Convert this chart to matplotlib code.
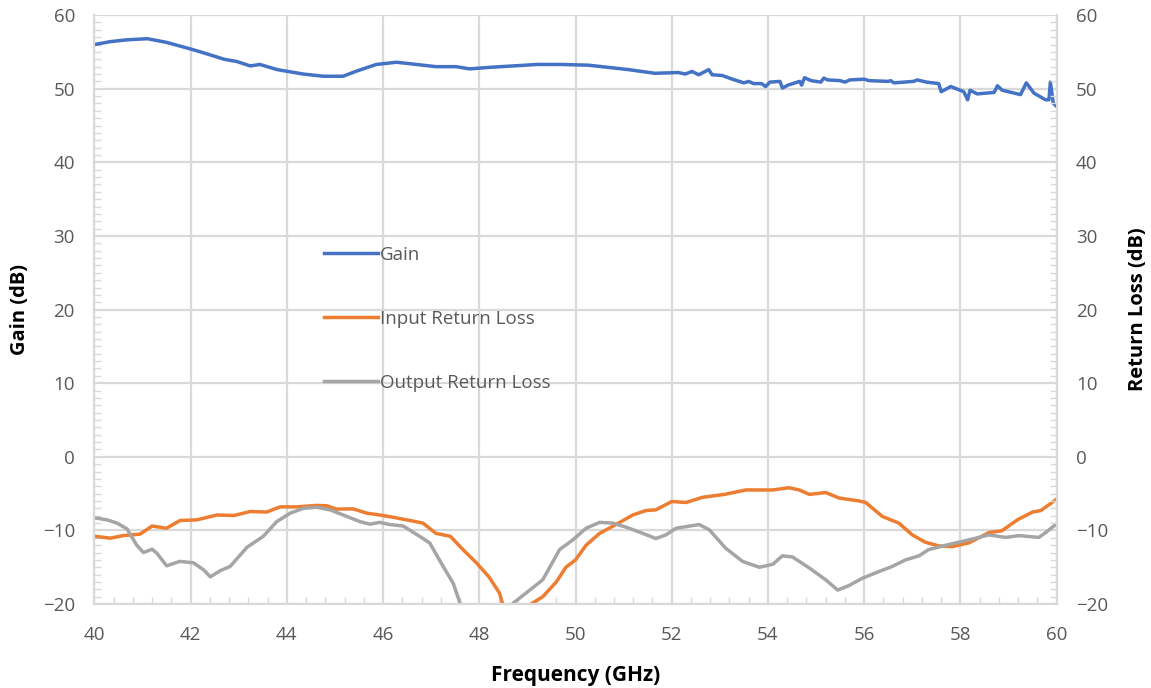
"""
Gain and return loss versus frequency
"""

import matplotlib
matplotlib.use('Agg')
import matplotlib.pyplot as plt
from matplotlib.ticker import MultipleLocator

# gain (dB)
gain_f = [40.0, 40.33, 40.68, 41.1, 41.5, 42.0, 42.26, 42.7, 42.96, 43.24, 43.44,
          43.8, 44.07, 44.34, 44.76, 45.17, 45.45, 45.86, 46.28, 46.56, 47.1,
          47.52, 47.8, 48.2, 49.2, 49.7, 50.27, 50.55, 51.1, 51.65, 52.14, 52.28,
          52.42, 52.56, 52.77, 52.84, 53.05, 53.26, 53.5, 53.6, 53.7, 53.87,
          53.95, 54.04, 54.25, 54.3, 54.42, 54.66, 54.7, 54.76, 54.9, 55.1,
          55.16, 55.24, 55.5, 55.6, 55.7, 56.0, 56.1, 56.5, 56.55, 56.62, 57.03,
          57.1, 57.3, 57.55, 57.6, 57.8, 58.07, 58.15, 58.2, 58.35, 58.7, 58.77,
          58.87, 59.25, 59.37, 59.53, 59.77, 59.84, 59.87, 59.93, 60.0]
gain_db = [56.0, 56.4, 56.65, 56.8, 56.3, 55.4, 54.9, 54.0, 53.7, 53.1, 53.3,
           52.6, 52.3, 52.0, 51.7, 51.7, 52.4, 53.3, 53.6, 53.4, 53.0,
           53.0, 52.7, 52.9, 53.3, 53.3, 53.2, 53.0, 52.6, 52.1, 52.2, 52.0,
           52.35, 51.9, 52.6, 51.9, 51.8, 51.3, 50.8, 51.0, 50.7, 50.7,
           50.3, 50.9, 51.0, 50.1, 50.5, 51.0, 50.5, 51.5, 51.1, 50.9,
           51.45, 51.2, 51.1, 50.9, 51.2, 51.3, 51.1, 51.0, 51.1, 50.8, 51.0,
           51.2, 50.9, 50.7, 49.6, 50.3, 49.6, 48.5, 49.8, 49.3, 49.5, 50.4,
           49.8, 49.2, 50.8, 49.4, 48.5, 48.5, 50.9, 48.05, 47.6]

# input return loss (dB)
irl_f = [40.02, 40.33, 40.6, 40.95, 41.2, 41.5, 41.78, 42.13, 42.55, 42.9, 43.24,
         43.58, 43.86, 44.2, 44.62, 44.83, 45.03, 45.38, 45.66, 45.93, 46.2,
         46.56, 46.83, 47.1, 47.4, 47.66, 47.94, 48.2, 48.42, 48.49, 48.75,
         49.05, 49.32, 49.6, 49.8, 50.0, 50.22, 50.5, 50.84, 51.19, 51.46,
         51.67, 52.0, 52.3, 52.64, 53.1, 53.54, 54.1, 54.44, 54.65, 54.86,
         55.2, 55.48, 55.9, 56.03, 56.38, 56.72, 57.0, 57.27, 57.55, 57.83,
         58.17, 58.59, 58.86, 59.2, 59.5, 59.67, 59.98]
irl_db = [-10.8, -11.05, -10.7, -10.5, -9.4, -9.7, -8.65, -8.56, -7.9, -7.97, -7.43,
          -7.5, -6.8, -6.8, -6.6, -6.65, -7.1, -7.07, -7.65, -7.9, -8.2,
          -8.65, -9.0, -10.4, -10.8, -12.6, -14.4, -16.3, -18.5, -20.1, -23.0,
          -20.1, -19.0, -17.0, -15.0, -14.0, -12.0, -10.4, -9.2, -7.9, -7.3,
          -7.2, -6.07, -6.2, -5.5, -5.1, -4.5, -4.5, -4.2, -4.5, -5.1,
          -4.85, -5.6, -6.0, -6.2, -8.1, -9.0, -10.6, -11.6, -12.1, -12.2,
          -11.7, -10.3, -10.05, -8.5, -7.5, -7.3, -5.85]

# output return loss (dB)
orl_f = [40.02, 40.26, 40.47, 40.68, 40.88, 41.02, 41.2, 41.3, 41.5, 41.78, 42.06,
         42.27, 42.41, 42.62, 42.82, 43.17, 43.51, 43.79, 44.07, 44.34, 44.62,
         44.9, 45.17, 45.52, 45.73, 45.93, 46.14, 46.42, 46.76, 46.97, 47.25,
         47.46, 47.6, 48.15, 48.7, 49.05, 49.32, 49.67, 49.94, 50.22, 50.5,
         50.77, 51.05, 51.4, 51.67, 51.88, 52.09, 52.57, 52.78, 53.12, 53.47,
         53.82, 54.1, 54.3, 54.51, 54.86, 55.2, 55.45, 55.68, 55.96, 56.3,
         56.58, 56.86, 57.14, 57.34, 57.7, 57.97, 58.32, 58.59, 58.94, 59.22,
         59.63, 59.77, 59.98]
orl_db = [-8.3, -8.56, -9.0, -9.8, -12.0, -13.0, -12.55, -13.1, -14.8, -14.2, -14.4,
          -15.35, -16.3, -15.45, -14.9, -12.3, -10.8, -8.8, -7.65, -7.0, -6.85,
          -7.2, -7.9, -8.8, -9.15, -8.9, -9.2, -9.4, -10.8, -11.7, -14.9,
          -17.2, -19.9, -26.0, -19.9, -18.1, -16.7, -12.6, -11.3, -9.7, -8.9,
          -9.0, -9.55, -10.4, -11.1, -10.6, -9.7, -9.2, -9.9, -12.4, -14.2,
          -15.0, -14.6, -13.45, -13.6, -15.1, -16.7, -18.1, -17.5, -16.5, -15.6,
          -14.9, -14.0, -13.45, -12.6, -12.0, -11.6, -11.05, -10.6, -10.95, -10.7,
          -10.95, -10.3, -9.2]

plt.rcParams['font.family'] = ['Open Sans', 'DejaVu Sans']
TXT = '#595959'
GRID = '#d9d9d9'

fig = plt.figure(figsize=(11.51, 6.88), dpi=100)
ax = fig.add_axes([0.082, 0.122, 0.836, 0.856])

ax.plot(gain_f, gain_db, color='#4472C4', lw=2.5, label='Gain')
ax.plot(irl_f, irl_db, color='#ED7D31', lw=2.5, label='Input Return Loss')
ax.plot(orl_f, orl_db, color='#A5A5A5', lw=2.5, label='Output Return Loss')

ax.set_xlim(40, 60)
ax.set_ylim(-20, 60)
ax.xaxis.set_major_locator(MultipleLocator(2))
ax.xaxis.set_minor_locator(MultipleLocator(0.4))
ax.yaxis.set_major_locator(MultipleLocator(10))
ax.yaxis.set_minor_locator(MultipleLocator(1))
ax.grid(True, which='major', color=GRID, lw=1.6)
ax.set_axisbelow(True)
for s in ax.spines.values():
    s.set_color(GRID)
    s.set_linewidth(1.6)
ax.spines['top'].set_visible(False)
ax.tick_params(which='both', direction='in', colors=GRID, labelcolor=TXT,
               labelsize=13.5)
ax.tick_params(which='major', length=0)
ax.tick_params(axis='x', which='major', pad=16)
ax.tick_params(axis='y', which='major', pad=14)
ax.tick_params(which='minor', length=5, width=1)
ax.tick_params(axis='y', which='minor', right=False)

ax.set_xlabel('Frequency (GHz)', fontsize=15, fontweight='bold', color='black',
              labelpad=15)
ax.set_ylabel('Gain (dB)', fontsize=14.5, fontweight='bold', color='black',
              labelpad=9)

ax2 = ax.twinx()
ax2.set_ylim(-20, 60)
ax2.yaxis.set_major_locator(MultipleLocator(10))
ax2.yaxis.set_minor_locator(MultipleLocator(1))
for s in ax2.spines.values():
    s.set_visible(False)
ax2.tick_params(which='both', direction='in', colors=GRID, labelcolor=TXT,
                labelsize=13.5)
ax2.tick_params(which='major', length=0, pad=14)
ax2.tick_params(which='minor', length=5, width=1)
ax2.set_ylabel('Return Loss (dB)', fontsize=14.5, fontweight='bold', color='black',
               labelpad=14)

leg = ax.legend(loc='upper left', bbox_to_anchor=(307 / 1151, 1 - 229 / 688),
                bbox_transform=fig.transFigure, frameon=False, fontsize=13.5,
                labelspacing=2.45, handlelength=2.9, handletextpad=0.1)
for t in leg.get_texts():
    t.set_color(TXT)

plt.savefig('out.png', dpi=100)
plt.close(fig)
